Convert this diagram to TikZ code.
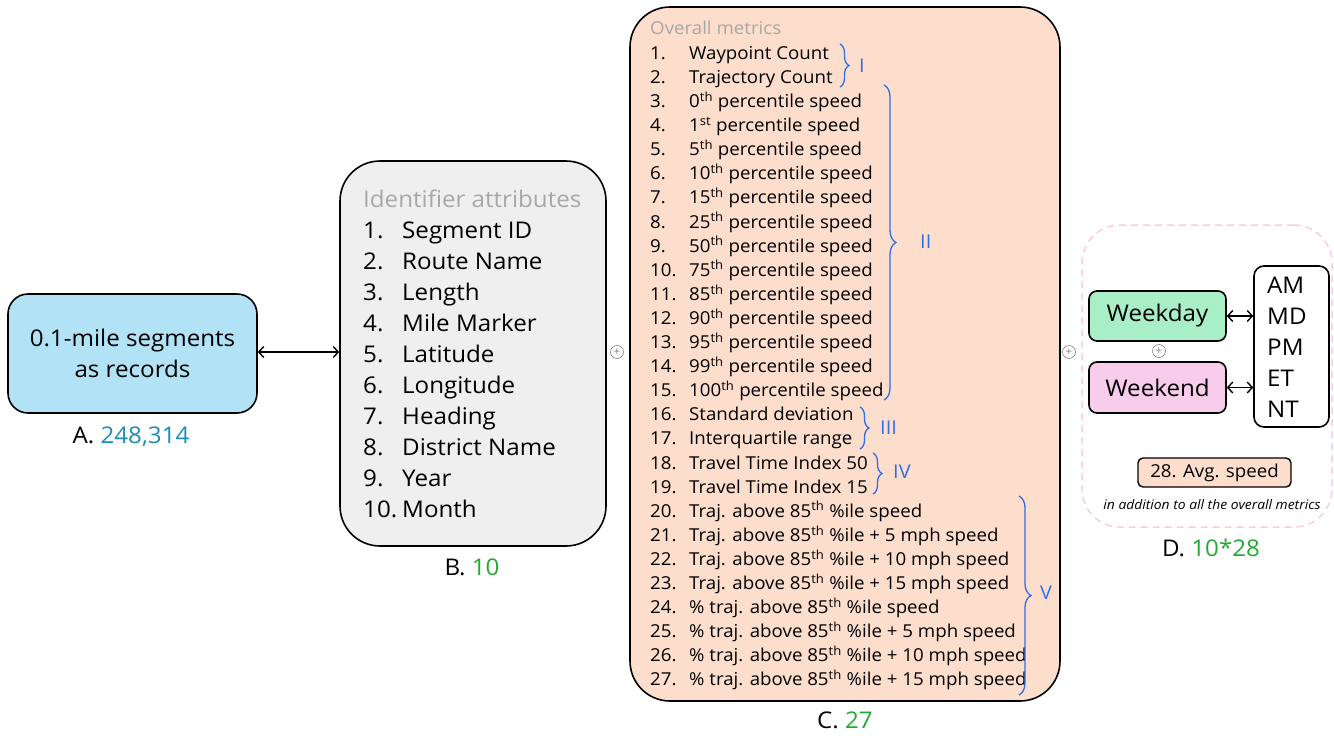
\documentclass[tikz,border=0pt]{standalone}
\usepackage{fontspec}
\setmainfont{Open Sans}[FakeStretch=1.05]
\usetikzlibrary{arrows.meta,decorations.pathreplacing}
\definecolor{skyfill}{HTML}{B2E2F5}
\definecolor{greyfill}{HTML}{EFEFEF}
\definecolor{peach}{HTML}{FDDDCB}
\definecolor{titlegrey}{HTML}{A8A8A8}
\definecolor{bracecol}{HTML}{2E6FE6}
\definecolor{countblue}{HTML}{1C8DB8}
\definecolor{countgreen}{HTML}{22AA33}
\definecolor{dayfill}{HTML}{A8EFC8}
\definecolor{endfill}{HTML}{F8CDEC}
\definecolor{dashpink}{HTML}{F8CCE6}
\tikzset{
  box/.style={draw=black, line width=1.6pt, inner sep=0pt},
  bigtxt/.style={font=\fontsize{23}{31}\selectfont},
  midtxt/.style={font=\fontsize{17.8}{24}\selectfont},
  item/.style={anchor=base west, inner sep=0pt},
  plus/.style={circle, draw=gray, line width=0.6pt, minimum size=13pt, inner sep=0pt,
    text=gray, font=\fontsize{11}{11}\selectfont},
  link/.style={line width=1.4pt, {Straight Barb[length=5pt,width=11pt]}-{Straight Barb[length=5pt,width=11pt]}},
  brc/.style={draw=bracecol, line width=1.3pt, decorate},
  brclab/.style={text=bracecol, anchor=west, inner sep=0pt, font=\fontsize{19}{19}\selectfont},
  caption/.style={font=\fontsize{23}{23}\selectfont, anchor=base}
}
\begin{document}
\begin{tikzpicture}[x=1pt,y=-1pt]
\useasboundingbox (0,0) rectangle (1334,737);

% A: records
\node[box, fill=skyfill, rounded corners=20pt, minimum width=249pt, minimum height=119pt,
  bigtxt, align=center] (A) at (132.5,353.5) {0.1-mile segments\\as records};
\node[caption] (Alab) at (131,443) {A. \textcolor{countblue}{248,314}};

% B: identifier attributes
\node[box, fill=greyfill, rounded corners=40pt, minimum width=266pt, minimum height=385pt] (B) at (473,353.5) {};
\node[item, bigtxt, text=titlegrey] (Btitle) at (363,207) {Identifier attributes};
\foreach \i/\t in {1/{Segment ID},2/{Route Name},3/{Length},4/{Mile Marker},5/{Latitude},
  6/{Longitude},7/{Heading},8/{District Name},9/{Year},10/{Month}}{
  \node[item, bigtxt] (Bn\i) at (363,{238+(\i-1)*31}) {\i.};
  \node[item, bigtxt] (Bt\i) at (402,{238+(\i-1)*31}) {\t};
}
\node[caption] (Blab) at (472,575) {B. \textcolor{countgreen}{10}};

\draw[link] (A.east |- 0,352) -- (B.west |- 0,352);
\node[plus] (p1) at (617,352) {+};

% C: overall metrics
\node[box, fill=peach, rounded corners=40pt, minimum width=430pt, minimum height=694pt] (C) at (845,354) {};
\node[item, midtxt, text=titlegrey] (Ctitle) at (650,34.5) {Overall metrics};
\foreach \i/\t in {
  1/{Waypoint Count},
  2/{Trajectory Count},
  3/{0\textsuperscript{th} percentile speed},
  4/{1\textsuperscript{st} percentile speed},
  5/{5\textsuperscript{th} percentile speed},
  6/{10\textsuperscript{th} percentile speed},
  7/{15\textsuperscript{th} percentile speed},
  8/{25\textsuperscript{th} percentile speed},
  9/{50\textsuperscript{th} percentile speed},
  10/{75\textsuperscript{th} percentile speed},
  11/{85\textsuperscript{th} percentile speed},
  12/{90\textsuperscript{th} percentile speed},
  13/{95\textsuperscript{th} percentile speed},
  14/{99\textsuperscript{th} percentile speed},
  15/{100\textsuperscript{th} percentile speed},
  16/{Standard deviation},
  17/{Interquartile range},
  18/{Travel Time Index 50},
  19/{Travel Time Index 15},
  20/{Traj. above 85\textsuperscript{th} \%ile speed},
  21/{Traj. above 85\textsuperscript{th} \%ile + 5 mph speed},
  22/{Traj. above 85\textsuperscript{th} \%ile + 10 mph speed},
  23/{Traj. above 85\textsuperscript{th} \%ile + 15 mph speed},
  24/{\% traj. above 85\textsuperscript{th} \%ile speed},
  25/{\% traj. above 85\textsuperscript{th} \%ile + 5 mph speed},
  26/{\% traj. above 85\textsuperscript{th} \%ile + 10 mph speed},
  27/{\% traj. above 85\textsuperscript{th} \%ile + 15 mph speed}}{
  \node[item, midtxt] (Cn\i) at (650,{59.3+(\i-1)*24.1}) {\i.};
  \node[item, midtxt] (Ct\i) at (689,{59.3+(\i-1)*24.1}) {\t};
}
\node[caption] (Clab) at (845,728) {C. \textcolor{countgreen}{27}};

% metric groups
\coordinate (g1a) at (840,44);  \coordinate (g1b) at (840,87);
\coordinate (g2a) at (884,85);  \coordinate (g2b) at (884,400);
\coordinate (g3a) at (860,407); \coordinate (g3b) at (860,449);
\coordinate (g4a) at (873,453); \coordinate (g4b) at (873,494);
\coordinate (g5a) at (1019,496);\coordinate (g5b) at (1019,695);
\draw[brc, decoration={brace,amplitude=9pt}] (g1a) -- (g1b);
\draw[brc, decoration={brace,amplitude=12pt}] (g2a) -- (g2b);
\draw[brc, decoration={brace,amplitude=9pt}] (g3a) -- (g3b);
\draw[brc, decoration={brace,amplitude=9pt}] (g4a) -- (g4b);
\draw[brc, decoration={brace,amplitude=12pt}] (g5a) -- (g5b);
\node[brclab] (l1) at (859,66) {I};
\node[brclab] (l2) at (920,242) {II};
\node[brclab] (l3) at (880,428) {III};
\node[brclab] (l4) at (893,472) {IV};
\node[brclab] (l5) at (1040,593) {V};

\node[plus] (p2) at (1069,352) {+};

% D: time-of-day breakdown
\node[draw=dashpink, line width=1.5pt, dash pattern=on 7pt off 5pt, rounded corners=38pt,
  minimum width=250pt, minimum height=302pt, inner sep=0pt] (D) at (1207,376) {};
\node[box, fill=dayfill, rounded corners=8pt, minimum width=137pt, minimum height=50pt, bigtxt] (wd) at (1157.5,316) {Weekday};
\node[box, fill=endfill, rounded corners=8pt, minimum width=137pt, minimum height=51pt, bigtxt] (we) at (1157.5,387.5) {Weekend};
\node[plus] (p3) at (1159,351) {+};
\node[box, fill=white, rounded corners=10pt, minimum width=75pt, minimum height=161pt] (tod) at (1291.5,346.5) {};
\foreach \i/\t in {1/AM,2/MD,3/PM,4/ET,5/NT}{
  \node[item, bigtxt] (tod\i) at (1267,{293+(\i-1)*31}) {\t};
}
\draw[link] (wd.east) -- (tod.west |- wd.east);
\draw[link] (we.east) -- (tod.west |- we.east);
\node[draw=black, line width=1.4pt, fill=peach, rounded corners=5pt, minimum width=153pt,
  minimum height=29pt, inner sep=0pt, font=\fontsize{17.8}{18}\selectfont] (avg) at (1214.5,472.5) {28. Avg. speed};
\node[font=\fontsize{13.2}{14}\selectfont\itshape] (note) at (1212,505) {in addition to all the overall metrics};
\node[caption] (Dlab) at (1211,556) {D. \textcolor{countgreen}{10*28}};
\end{tikzpicture}
\end{document}
